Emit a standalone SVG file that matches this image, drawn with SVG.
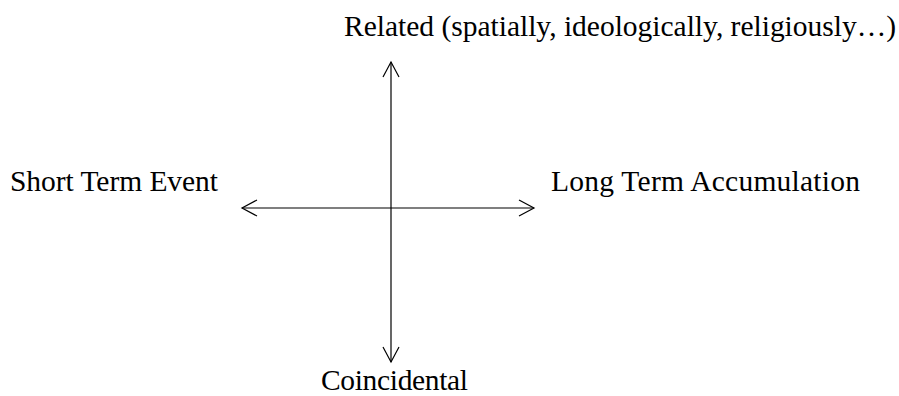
<svg xmlns="http://www.w3.org/2000/svg" width="899" height="396" viewBox="0 0 899 396">
<style>
text{font-family:'Times New Roman','Liberation Serif',Tinos,serif;font-size:29.5px;fill:#000}
.ax{stroke:#000;stroke-width:1.2;fill:none}
</style>
<rect width="899" height="396" fill="#fff"/>
<g id="connectors">
<line class="ax" x1="242" y1="208" x2="534" y2="208"/>
<line class="ax" x1="391" y1="62" x2="391" y2="362"/>
<polyline class="ax" points="257,200 242,208 257,216"/>
<polyline class="ax" points="519,200 534,208 519,216"/>
<polyline class="ax" points="383,77 391,62 399,77"/>
<polyline class="ax" points="383,347 391,362 399,347"/>
</g>
<g id="top"><text x="344" y="36" textLength="552" lengthAdjust="spacing">Related (spatially, ideologically, religiously…)</text></g>
<g id="left"><text x="10" y="191" textLength="208" lengthAdjust="spacing">Short Term Event</text></g>
<g id="right"><text x="551" y="191" textLength="309" lengthAdjust="spacing">Long Term Accumulation</text></g>
<g id="bottom"><text x="321" y="390" textLength="147" lengthAdjust="spacing">Coincidental</text></g>
</svg>
